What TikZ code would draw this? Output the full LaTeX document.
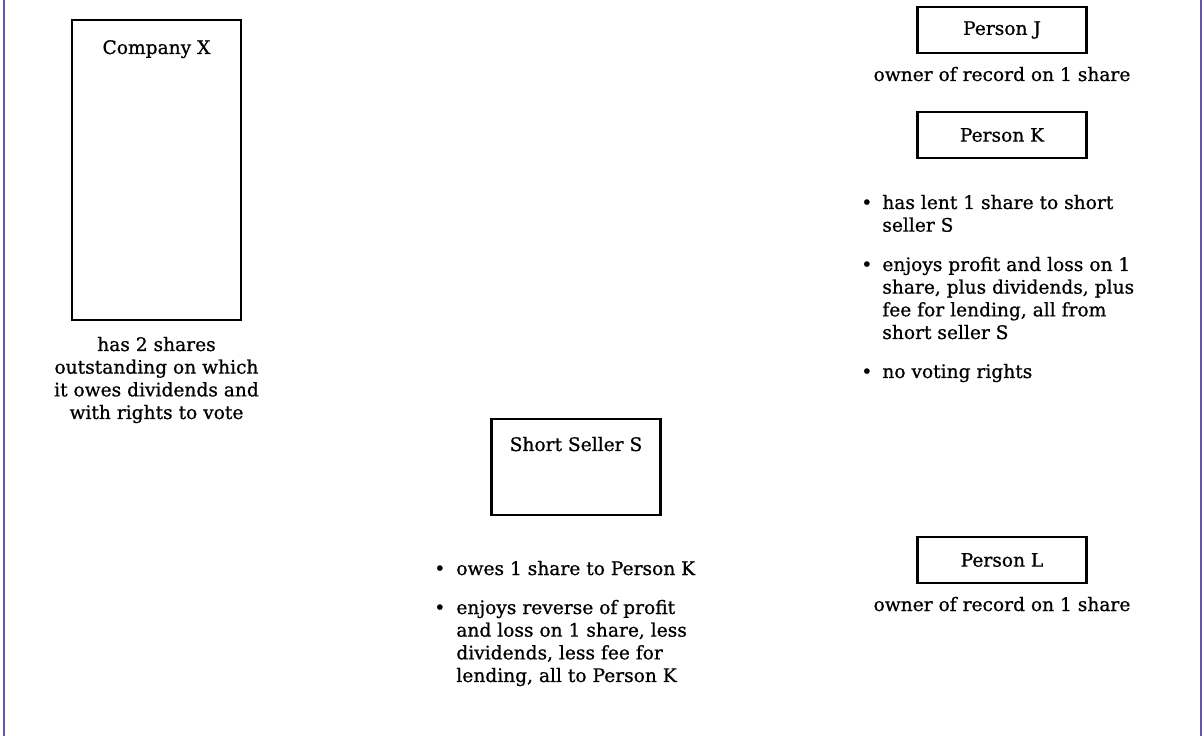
\documentclass[tikz,border=0pt]{standalone}
\usepackage{fontspec}
\setmainfont{DejaVu Serif}[BoldFont=DejaVu Serif, BoldFeatures={FakeBold=0.8}]
\usepackage{array}
\definecolor{framecol}{RGB}{95,90,165}
\begin{document}
\begin{tikzpicture}[x=0.02cm,y=-0.02cm,
  txt/.style={inner sep=0pt, font=\fontsize{10.6pt}{12.9pt}\selectfont\bfseries},
  box/.style={draw, line width=0.055cm, inner sep=0pt, minimum width=3.38cm, font=\fontsize{10.6pt}{12.9pt}\selectfont\bfseries},
  smallbox/.style={box, minimum height=0.92cm},
  framerule/.style={draw=framecol, line width=0.045cm}]
\useasboundingbox (0,0) rectangle (1204,736);
\draw[framerule] (4,0) -- (4,736);
\draw[framerule] (1201,0) -- (1201,736);

% Company X
\node[box, minimum height=6cm] (company) at (156.5,170) {};
\node[txt, anchor=base] (companyT) at (156.5,54) {Company X};
\node[txt, anchor=base] (companyC) at (156.5,351) {\begin{tabular}[t]{@{}c@{}}has 2 shares\\ outstanding on which\\ it owes dividends and\\ with rights to vote\end{tabular}};

% Person J
\node[smallbox] (personJ) at (1002,30) {Person J};
\node[txt, anchor=base] (personJC) at (1002,81) {owner of record on 1 share};

% Person K
\node[smallbox] (personK) at (1002,135) {Person K};
\node[txt, anchor=base west] (k1) at (861,209) {\begin{tabular}[t]{@{}p{0.42cm}@{}l@{}}\textbullet & has lent 1 share to short\\ & seller S\end{tabular}};
\node[txt, anchor=base west] (k2) at (861,271) {\begin{tabular}[t]{@{}p{0.42cm}@{}l@{}}\textbullet & enjoys profit and loss on 1\\ & share, plus dividends, plus\\ & fee for lending, all from\\ & short seller S\end{tabular}};
\node[txt, anchor=base west] (k3) at (861,378) {\begin{tabular}[t]{@{}p{0.42cm}@{}l@{}}\textbullet & no voting rights\end{tabular}};

% Short Seller S
\node[box, minimum height=1.92cm] (seller) at (576,467) {};
\node[txt, anchor=base] (sellerT) at (576,451) {Short Seller S};
\node[txt, anchor=base west] (s1) at (434,575) {\begin{tabular}[t]{@{}p{0.44cm}@{}l@{}}\textbullet & owes 1 share to Person K\end{tabular}};
\node[txt, anchor=base west] (s2) at (434,614) {\begin{tabular}[t]{@{}p{0.44cm}@{}l@{}}\textbullet & enjoys reverse of profit\\ & and loss on 1 share, less\\ & dividends, less fee for\\ & lending, all to Person K\end{tabular}};

% Person L
\node[smallbox] (personL) at (1002,560) {Person L};
\node[txt, anchor=base] (personLC) at (1002,611) {owner of record on 1 share};
\end{tikzpicture}
\end{document}
